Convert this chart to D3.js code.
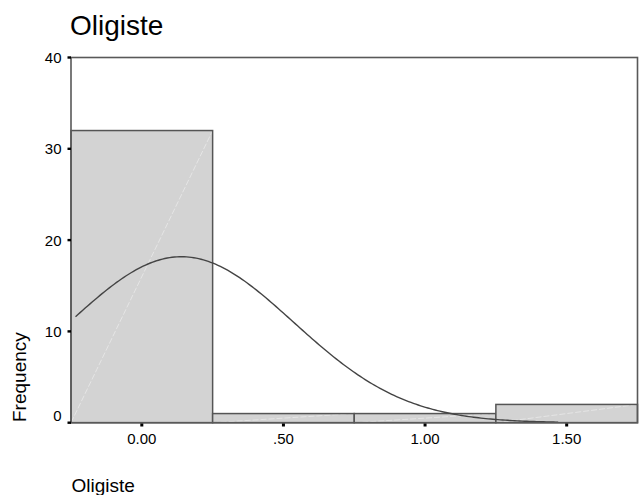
<!DOCTYPE html>
<html>
<head>
<meta charset="utf-8">
<script src="https://cdn.jsdelivr.net/npm/d3@7"></script>
<style>
  html, body { margin: 0; padding: 0; background: #fff; }
  svg { display: block; font-family: "Liberation Sans", Arial, sans-serif; }
</style>
</head>
<body>
<svg id="chart" width="639" height="495"></svg>
<script>
// Histogram of Oligiste with fitted normal curve
const binStarts = [-0.25, 0.25, 0.75, 1.25];
const binWidth = 0.5;
const counts = [32, 1, 1, 2];
const xTicks = [0, 0.5, 1.0, 1.5];
const xTickLabels = ["0.00", ".50", "1.00", "1.50"];
const yTicks = [0, 10, 20, 30, 40];
const curveMean = 0.14;
const curveSd = 0.395;
const curveFrom = -0.234;
const curveTo = 1.47;
const totalN = d3.sum(counts);

const svg = d3.select("#chart");
const plotLeft = 71, plotRight = 637.5, plotTop = 57.5, plotBottom = 422.7;

const x = d3.scaleLinear().domain([-0.25, 1.75]).range([plotLeft, plotRight]);
const y = d3.scaleLinear().domain([0, 40]).range([plotBottom, plotTop]);

// title
svg.append("text").attr("x", 70).attr("y", 34.5)
  .attr("font-size", 28).attr("fill", "#000").text("Oligiste");

// bars
const bars = svg.append("g");
binStarts.forEach((b, i) => {
  const x0 = x(b), x1 = x(b + binWidth), y0 = y(counts[i]);
  bars.append("rect")
    .attr("x", x0).attr("y", y0)
    .attr("width", x1 - x0).attr("height", y(0) - y0)
    .attr("fill", "#d3d3d3");
  bars.append("line")
    .attr("x1", x0).attr("y1", y(0)).attr("x2", x1).attr("y2", y0)
    .attr("stroke", "#f4f4f4").attr("stroke-width", 0.8)
    .attr("stroke-dasharray", "6,2").attr("opacity", 0.7);
  bars.append("rect")
    .attr("x", x0).attr("y", y0)
    .attr("width", x1 - x0).attr("height", y(0) - y0)
    .attr("fill", "none").attr("stroke", "#555").attr("stroke-width", 1.5);
});

// normal curve
const pts = d3.range(0, 201).map(i => {
  const v = curveFrom + (curveTo - curveFrom) * i / 200;
  const dens = Math.exp(-0.5 * Math.pow((v - curveMean) / curveSd, 2)) / (curveSd * Math.sqrt(2 * Math.PI));
  return [v, totalN * binWidth * dens];
});
svg.append("path")
  .attr("d", d3.line().x(d => x(d[0])).y(d => y(d[1]))(pts))
  .attr("fill", "none").attr("stroke", "#444").attr("stroke-width", 1.4);

// frame
svg.append("rect")
  .attr("x", plotLeft).attr("y", plotTop)
  .attr("width", plotRight - plotLeft).attr("height", plotBottom - plotTop)
  .attr("fill", "none").attr("stroke", "#595959").attr("stroke-width", 1.6);

// y axis ticks and labels
yTicks.forEach(t => {
  svg.append("rect").attr("x", 67.5).attr("y", y(t) - 1.2)
    .attr("width", 3.5).attr("height", 2.4).attr("fill", "#000");
  svg.append("text")
    .attr("x", 61.5).attr("y", y(t) + (t === 0 ? -7 : 0))
    .attr("dy", "0.36em").attr("text-anchor", "end")
    .attr("font-size", 15).attr("fill", "#000").text(t);
});

// x axis ticks and labels
xTicks.forEach((t, i) => {
  svg.append("rect").attr("x", x(t) - 1.5).attr("y", plotBottom + 0.8)
    .attr("width", 3).attr("height", 3).attr("fill", "#000");
  svg.append("text")
    .attr("x", x(t)).attr("y", 444.3).attr("text-anchor", "middle")
    .attr("font-size", 15).attr("fill", "#000").text(xTickLabels[i]);
});

// axis titles
svg.append("text")
  .attr("transform", "translate(25.5,422) rotate(-90)")
  .attr("font-size", 19).attr("fill", "#000").text("Frequency");
svg.append("text").attr("x", 71.5).attr("y", 491.5)
  .attr("font-size", 19).attr("fill", "#000").text("Oligiste");
</script>
</body>
</html>
